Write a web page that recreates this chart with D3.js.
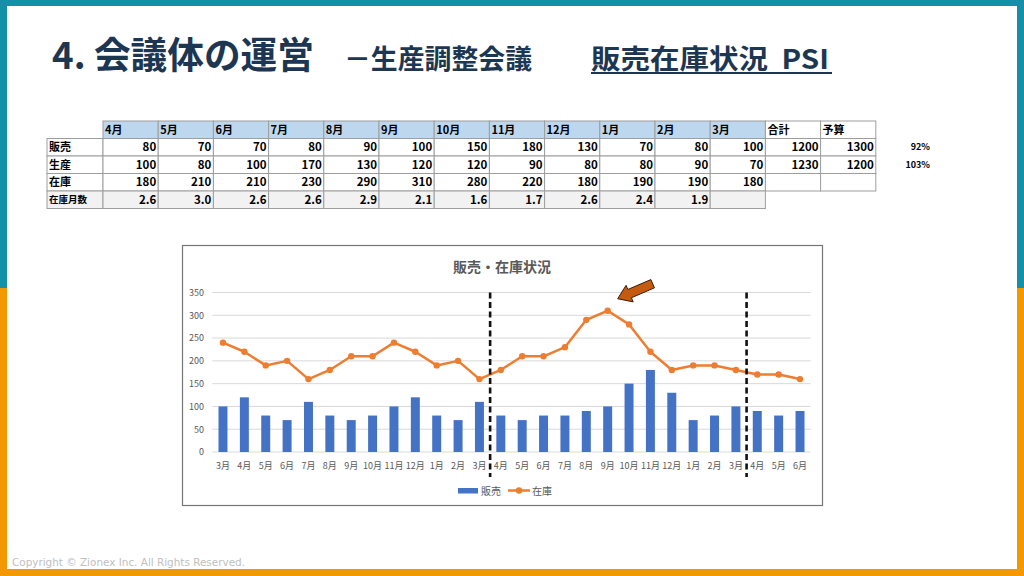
<!DOCTYPE html>
<html><head><meta charset="utf-8">
<script src="https://cdn.jsdelivr.net/npm/d3@7"></script>
<style>html,body{margin:0;padding:0;background:#fff;} svg{display:block;}</style>
</head><body><svg id="c" width="1024" height="576"></svg>
<script>
// ---------- DATA ----------
const tableMonths = ['4月','5月','6月','7月','8月','9月','10月','11月','12月','1月','2月','3月'];
const tableSales  = [80,70,70,80,90,100,150,180,130,70,80,100];
const tableProd   = [100,80,100,170,130,120,120,90,80,80,90,70];
const tableInv    = [180,210,210,230,290,310,280,220,180,190,190,180];
const tableMoi    = ['2.6','3.0','2.6','2.6','2.9','2.1','1.6','1.7','2.6','2.4','1.9',''];
const rowLabels   = ['販売','生産','在庫','在庫月数'];
const totalHeaders = ['合計','予算'];
const totals      = [1200,1230];
const budgets     = [1300,1200];
const ratios      = ['92%','103%'];

const chartMonths = ['3月','4月','5月','6月','7月','8月','9月','10月','11月','12月','1月','2月','3月',
                     '4月','5月','6月','7月','8月','9月','10月','11月','12月','1月','2月','3月',
                     '4月','5月','6月'];
const chartSales  = [100,120,80,70,110,80,70,80,100,120,80,70,110,
                     80,70,80,80,90,100,150,180,130,70,80,100,
                     90,80,90];
const chartInv    = [240,220,190,200,160,180,210,210,240,220,190,200,160,
                     180,210,210,230,290,310,280,220,180,190,190,180,
                     170,170,160];
const yTicks      = [0,50,100,150,200,250,300,350];
const periodBreaks = [13,25];   // index where a new fiscal period begins
const peakIndex    = 18;        // 9月 (310)

// ---------- DRAW ----------
const svg = d3.select('#c');
const FONT = '"Noto Sans CJK JP","Noto Sans",sans-serif';
const TEAL = '#1490a8', ORANGE = '#f39800', NAVY = '#1d3652';

svg.append('rect').attr('width',1024).attr('height',576).attr('fill','#fff');
// frame
svg.append('rect').attr('x',0).attr('y',0).attr('width',1024).attr('height',6).attr('fill',TEAL);
svg.append('rect').attr('x',0).attr('y',0).attr('width',7).attr('height',288).attr('fill',TEAL);
svg.append('rect').attr('x',1017).attr('y',0).attr('width',7).attr('height',288).attr('fill',TEAL);
svg.append('rect').attr('x',0).attr('y',288).attr('width',7).attr('height',288).attr('fill',ORANGE);
svg.append('rect').attr('x',1017).attr('y',288).attr('width',7).attr('height',288).attr('fill',ORANGE);
svg.append('rect').attr('x',0).attr('y',569).attr('width',1024).attr('height',7).attr('fill',ORANGE);

// title
svg.append('text').text('4. 会議体の運営').attr('x',52).attr('y',69)
  .attr('font-family',FONT).attr('font-weight',700).attr('font-size',37).attr('fill',NAVY)
  .attr('textLength',262).attr('lengthAdjust','spacingAndGlyphs');
svg.append('text').text('－生産調整会議').attr('x',344).attr('y',69)
  .attr('font-family',FONT).attr('font-weight',700).attr('font-size',27).attr('fill',NAVY)
  .attr('textLength',188).attr('lengthAdjust','spacingAndGlyphs');
svg.append('text').text('販売在庫状況  PSI').attr('x',591).attr('y',69)
  .attr('font-family',FONT).attr('font-weight',700).attr('font-size',27).attr('fill',NAVY)
  .attr('textLength',238).attr('lengthAdjust','spacingAndGlyphs').attr('xml:space','preserve');
svg.append('rect').attr('x',591).attr('y',72).attr('width',241).attr('height',2).attr('fill',NAVY);

// ---------- TABLE ----------
const colX = i => 103 + i * 55.2;     // i = 0..13 data columns
const rowY = r => 121 + r * 17.5;      // r = 0 header
const RH = 17.5, CW = 55.2;
const tbl = svg.append('g').attr('font-family',FONT).attr('font-size',11).attr('font-weight',700);
const BORDER = '#9e9e9e';
function cell(x,y,w,h,fill){
  tbl.append('rect').attr('x',x).attr('y',y).attr('width',w).attr('height',h)
    .attr('fill',fill).attr('stroke',BORDER).attr('stroke-width',1);
}
function txt(t,x,y,anchor,size){
  tbl.append('text').text(t).attr('x',x).attr('y',y+RH/2).attr('dy','0.36em')
    .attr('text-anchor',anchor).attr('font-size',size||11.5).attr('fill','#000');
}
// header
tableMonths.forEach((m,i)=>{ cell(colX(i),rowY(0),CW,RH,'#bdd7ee'); txt(m,colX(i)+2,rowY(0),'start',11); });
totalHeaders.forEach((m,i)=>{ cell(colX(12+i),rowY(0),CW,RH,'#fff'); txt(m,colX(12+i)+2,rowY(0),'start',11); });
// rows
const rows = [tableSales,tableProd,tableInv,tableMoi];
rows.forEach((vals,r)=>{
  const fill = r===3 ? '#f2f2f2' : '#fff';
  cell(47,rowY(r+1),56,RH,fill);
  txt(rowLabels[r],49,rowY(r+1),'start', r===3?9.5:11);
  vals.forEach((v,i)=>{ cell(colX(i),rowY(r+1),CW,RH,fill); txt(v,colX(i)+CW-2,rowY(r+1),'end'); });
  if(r<3){
    cell(colX(12),rowY(r+1),CW,RH,'#fff');
    cell(colX(13),rowY(r+1),CW,RH,'#fff');
    if(r<2){
      txt(totals[r],colX(12)+CW-2,rowY(r+1),'end');
      txt(budgets[r],colX(13)+CW-2,rowY(r+1),'end');
      tbl.append('text').text(ratios[r]).attr('x',930).attr('y',rowY(r+1)+RH/2).attr('dy','0.36em')
        .attr('text-anchor','end').attr('font-size',9).attr('fill','#000');
    }
  }
});

// ---------- CHART ----------
svg.append('rect').attr('x',182.5).attr('y',245.5).attr('width',640).attr('height',260)
  .attr('fill','#fff').attr('stroke','#767676').attr('stroke-width',1.2);
svg.append('text').text('販売・在庫状況').attr('x',502).attr('y',272).attr('text-anchor','middle')
  .attr('font-family',FONT).attr('font-size',14).attr('font-weight',700).attr('fill','#595959');

const x = d3.scaleBand().domain(d3.range(chartMonths.length)).range([212.3,810.7])
  .paddingInner(0.58).paddingOuter(0.29);
const y = d3.scaleLinear().domain([0,350]).range([452,292.5]);
const cx = i => x(i) + x.bandwidth()/2;

const g = svg.append('g');
// gridlines
g.selectAll('line.grid').data(yTicks).join('line').attr('class','grid')
  .attr('x1',212.3).attr('x2',810.7).attr('y1',d=>y(d)).attr('y2',d=>y(d))
  .attr('stroke','#d9d9d9').attr('stroke-width',1);
// y labels via axis
const yAxis = g.append('g').attr('transform','translate(212,0)')
  .call(d3.axisLeft(y).tickValues(yTicks).tickSize(0).tickPadding(8));
yAxis.select('.domain').remove();
yAxis.selectAll('text').attr('font-family',FONT).attr('font-size',9).attr('fill','#595959');
// x labels via axis
const xAxis = g.append('g').attr('transform','translate(0,452)')
  .call(d3.axisBottom(x).tickFormat(i=>chartMonths[i]).tickSize(0).tickPadding(11));
xAxis.select('.domain').remove();
xAxis.selectAll('text').attr('font-family',FONT).attr('font-size',9).attr('fill','#595959');

// bars
g.selectAll('rect.bar').data(chartSales).join('rect').attr('class','bar')
  .attr('x',(d,i)=>x(i)).attr('width',x.bandwidth())
  .attr('y',d=>y(d)).attr('height',d=>y(0)-y(d))
  .attr('fill','#4472c4');

// line
const line = d3.line().x((d,i)=>cx(i)).y(d=>y(d));
g.append('path').datum(chartInv).attr('d',line).attr('fill','none')
  .attr('stroke','#ed7d31').attr('stroke-width',2.5).attr('stroke-linejoin','round');
g.selectAll('circle.pt').data(chartInv).join('circle').attr('class','pt')
  .attr('cx',(d,i)=>cx(i)).attr('cy',d=>y(d)).attr('r',3.2).attr('fill','#ed7d31');

// period dashed lines
periodBreaks.forEach(b=>{
  const bx = x(b) - x.step()*x.paddingInner()/2;
  g.append('line').attr('x1',bx).attr('x2',bx).attr('y1',y(350)).attr('y2',477)
    .attr('stroke','#111').attr('stroke-width',2.6).attr('stroke-dasharray','6,3.5');
});

// arrow pointing at peak
(function(){
  const tip = [cx(peakIndex)+10, y(chartInv[peakIndex])-12];
  const tail = [cx(peakIndex)+45, y(chartInv[peakIndex])-27];
  const dx = tail[0]-tip[0], dy = tail[1]-tip[1], L = Math.hypot(dx,dy);
  const ux = dx/L, uy = dy/L, nx = -uy, ny = ux;
  const hl = 13, hw = 9, sw = 4.5;
  const p = (a,b)=>[tip[0]+ux*a+nx*b, tip[1]+uy*a+ny*b];
  const pts = [p(0,0), p(hl,hw), p(hl,sw), p(L,sw), p(L,-sw), p(hl,-sw), p(hl,-hw)];
  g.append('polygon').attr('points',pts.map(q=>q.join(',')).join(' '))
    .attr('fill','#c55a11').attr('stroke','#3b1d08').attr('stroke-width',1).attr('stroke-linejoin','round');
})();

// legend
const lg = svg.append('g').attr('font-family',FONT).attr('font-size',10).attr('fill','#595959');
lg.append('rect').attr('x',458).attr('y',488).attr('width',20).attr('height',5.5).attr('fill','#4472c4');
lg.append('text').text('販売').attr('x',481).attr('y',491).attr('dy','0.36em');
lg.append('line').attr('x1',508).attr('x2',530).attr('y1',490.5).attr('y2',490.5)
  .attr('stroke','#ed7d31').attr('stroke-width',2.5);
lg.append('circle').attr('cx',519).attr('cy',490.5).attr('r',3.2).attr('fill','#ed7d31');
lg.append('text').text('在庫').attr('x',532).attr('y',491).attr('dy','0.36em');

// footer
svg.append('text').text('Copyright © Zionex Inc. All Rights Reserved.').attr('x',12).attr('y',566)
  .attr('font-family','"DejaVu Sans",sans-serif').attr('font-size',10.5).attr('fill','#c0c0c0')
  .attr('textLength',233).attr('lengthAdjust','spacingAndGlyphs');
</script></body></html>
